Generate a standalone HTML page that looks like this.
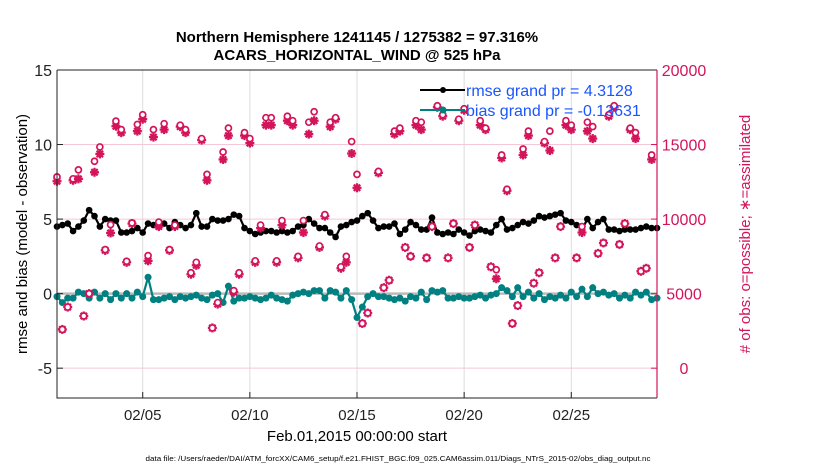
<!DOCTYPE html>
<html><head><meta charset="utf-8"><style>
html,body{margin:0;padding:0;background:#fff;}
svg{display:block;font-family:"Liberation Sans",Arial,sans-serif;}
</style></head><body>
<svg id="chart" width="830" height="470" viewBox="0 0 830 470" xmlns="http://www.w3.org/2000/svg">
<rect x="0" y="0" width="830" height="470" fill="#fff"/>
<text x="357" y="42" text-anchor="middle" font-size="15" font-weight="bold">Northern Hemisphere 1241145 / 1275382 = 97.316%</text>
<text x="357" y="60" text-anchor="middle" font-size="15" font-weight="bold">ACARS_HORIZONTAL_WIND @ 525 hPa</text>
<g id="grid"></g>
<g id="lines"></g>
<g id="obs"></g>
<g id="axes"></g>
<g>
  <line x1="420" y1="90" x2="465" y2="90" stroke="#000" stroke-width="2"/>
  <circle cx="443" cy="90" r="3" fill="#000"/>
  <text x="466" y="96" font-size="16" fill="#1a55ff">rmse grand pr = 4.3128</text>
  <line x1="420" y1="110" x2="465" y2="110" stroke="#008080" stroke-width="2"/>
  <circle cx="443" cy="110" r="3.5" fill="#008080"/>
  <text x="466" y="116" font-size="16" fill="#1a55ff">bias grand pr = -0.13631</text>
</g>
<text transform="translate(27,234) rotate(-90)" text-anchor="middle" font-size="15">rmse and bias (model - observation)</text>
<text transform="translate(750,234) rotate(-90)" text-anchor="middle" font-size="15" fill="#d4145a"># of obs: o=possible; ∗=assimilated</text>
<text x="357" y="441" text-anchor="middle" font-size="15">Feb.01,2015 00:00:00 start</text>
<text x="398" y="461" text-anchor="middle" font-size="7.5" textLength="505" lengthAdjust="spacingAndGlyphs">data file: /Users/raeder/DAI/ATM_forcXX/CAM6_setup/f.e21.FHIST_BGC.f09_025.CAM6assim.011/Diags_NTrS_2015-02/obs_diag_output.nc</text>
</svg>
<script>
const xTickDays=[4,9,14,19,24];
const xTickLabels=["02/05","02/10","02/15","02/20","02/25"];
const yTicksLeft=[-5,0,5,10,15];
const yTicksRight=[0,5000,10000,15000,20000];
const rmse=[4.5,4.6,4.7,4.2,4.5,4.9,5.6,5.2,4.5,5.0,4.9,4.9,4.1,4.1,4.2,4.4,4.1,4.7,4.6,4.5,4.7,4.4,4.8,4.6,4.4,4.6,5.4,4.5,4.5,5.0,4.9,4.9,5.0,5.3,5.2,4.4,4.2,4.0,4.1,4.2,4.2,4.1,4.2,4.1,4.2,4.5,4.6,5.0,4.7,4.4,4.4,4.1,3.8,4.5,4.6,4.8,4.9,5.2,5.4,4.9,4.4,4.5,4.5,4.7,4.0,4.3,4.8,4.6,4.3,4.3,5.1,4.1,4.0,4.1,4.0,4.3,4.1,3.9,4.2,4.3,4.2,4.1,4.6,5.0,4.3,4.4,4.6,4.8,4.7,4.9,5.2,5.1,5.2,5.3,5.4,4.9,4.8,4.6,4.3,5.0,4.4,4.8,5.0,4.3,4.3,4.2,4.3,4.3,4.3,4.4,4.5,4.4,4.4];
const bias=[-0.2,-0.6,-0.3,-0.3,0.1,0.0,-0.3,0.1,-0.3,0.0,-0.4,0.0,-0.3,0.0,-0.3,0.1,-0.2,1.1,-0.4,-0.4,-0.3,-0.2,-0.4,-0.2,-0.3,-0.2,-0.1,-0.3,-0.4,-0.1,0.0,-0.6,0.5,-0.5,-0.3,-0.3,-0.2,-0.3,-0.4,-0.3,-0.1,-0.3,-0.4,-0.5,-0.1,0.0,0.1,0.0,0.2,0.2,-0.3,0.2,0.1,-0.3,0.2,-0.4,-1.6,-0.9,-0.2,0.0,-0.2,-0.2,-0.3,-0.4,-0.3,-0.5,-0.2,-0.3,0.1,-0.4,0.2,0.1,0.2,-0.3,-0.3,-0.2,-0.3,-0.3,-0.2,-0.1,-0.3,-0.1,0.0,0.4,0.2,-0.2,0.4,-0.2,0.1,-0.3,0.0,-0.4,-0.2,-0.3,-0.1,-0.3,0.1,-0.2,0.3,-0.2,0.4,0.0,0.1,-0.1,0.0,-0.3,-0.1,-0.3,0.1,-0.1,0.1,-0.4,-0.3];
const possible=[12830,2600,4100,12700,13300,3500,5000,13880,14840,7950,9630,16570,16000,7170,9740,16350,17000,7550,16000,9800,16400,7950,9600,16300,16000,6400,7100,15400,13000,2700,4400,14500,16100,5200,6400,15800,15400,7200,9600,16800,16800,7200,9900,16900,16600,7500,9900,16500,17200,8200,10300,16500,16800,6800,7500,15200,13000,3000,3700,null,13200,5400,5900,15900,16100,8100,7500,16600,16500,7400,9500,17600,17000,7400,9700,16700,17400,8100,9600,16600,16100,6800,6600,14300,12000,3000,4200,14700,15900,5700,6400,15200,15900,7400,9500,16600,16300,7400,9500,16500,16200,7700,8400,17000,17600,8300,9700,16100,15800,6500,6700,14300,null];
const assimilated=[12540,2600,4100,12600,12700,3500,5000,13140,14370,7900,9070,16230,15800,7100,9700,15900,16700,7200,15500,9500,16000,7900,9500,16200,15800,6300,6900,15300,12600,2700,4300,14000,15600,5100,6300,15600,15100,7100,9400,16300,16300,7100,9600,16600,16300,7400,9100,15700,16600,8100,10200,16200,16700,6700,7100,14400,12100,3000,3700,null,13100,5400,5900,15700,15900,8100,7500,16300,16000,7400,9500,17500,16900,7400,9700,16600,17300,8100,9600,16300,16000,6800,6000,14100,11900,3000,4200,14300,15600,5700,6400,15100,14600,7400,9500,16300,16000,7400,9100,15900,15400,7700,8400,16900,17500,8300,9700,16000,15400,6500,6700,14000,0];
const stepDays=0.25;

const NS="http://www.w3.org/2000/svg";
const X0=57,X1=657,Y0=70,Y1=398,XMIN=0,XMAX=28,YMIN=-7,YMAX=15;
const xS=d=>X0+(d-XMIN)/(XMAX-XMIN)*(X1-X0);
const yS=v=>Y1-(v-YMIN)/(YMAX-YMIN)*(Y1-Y0);
const yR=c=>yS(c/1000-5);
const RED="#d4145a";
function mk(tag,attrs,parent){const e=document.createElementNS(NS,tag);for(const k in attrs)e.setAttribute(k,attrs[k]);parent.appendChild(e);return e;}
const grid=document.getElementById('grid'),axes=document.getElementById('axes'),obs=document.getElementById('obs'),lines=document.getElementById('lines');

xTickDays.forEach((d,i)=>{
  const g=mk('line',{x1:xS(d),x2:xS(d),y1:Y0,y2:Y1,stroke:'#dcdcdc','stroke-width':1},grid);
  
  
  const t=mk('line',{x1:xS(d),x2:xS(d),y1:Y1,y2:Y1-6,stroke:'#222','stroke-width':1},axes);
  
  
  const l=mk('text',{x:xS(d),y:420,'text-anchor':'middle','font-size':15,fill:'#222'},axes);
  l.textContent=xTickLabels[i];
  
  
});
yTicksRight.forEach(c=>{
  const g=mk('line',{x1:X0,x2:X1,y1:yR(c),y2:yR(c),stroke:'#f4c8d6','stroke-width':1},grid);
  
  
  const t=mk('line',{x1:X1,x2:X1-6,y1:yR(c),y2:yR(c),stroke:RED,'stroke-width':1},axes);
  
  
  const l=mk('text',{x:684,y:yR(c)+6,'text-anchor':'middle','font-size':16,fill:RED},axes);
  l.textContent=String(c);
  
  
});
yTicksLeft.forEach(v=>{
  const t=mk('line',{x1:X0,x2:X0+6,y1:yS(v),y2:yS(v),stroke:'#222','stroke-width':1},axes);
  
  
  const l=mk('text',{x:52,y:yS(v)+6,'text-anchor':'end','font-size':16,fill:'#222'},axes);
  l.textContent=String(v);
  
  
});
const zl=mk('line',{x1:X0,x2:X1,y1:yS(0),y2:yS(0),stroke:'#bbbbbb','stroke-width':2.5},grid);



possible.forEach((c,i)=>{
  if(c===null)return;
  const cx=xS(i*stepDays);
  const a=assimilated[i];
  if(a!==null){
    const g=mk('g',{stroke:RED,'stroke-width':2.3},obs);
    
    
    const cy=yR(a);
    [[4.5,0],[0,4.5],[3.2,3.2],[3.2,-3.2]].forEach(([dx,dy])=>mk('line',{x1:cx-dx,y1:cy-dy,x2:cx+dx,y2:cy+dy},g));
  }
  if(c>0){
    const o=mk('circle',{cx:cx,cy:yR(c),r:3,fill:'#fff',stroke:RED,'stroke-width':1.7},obs);
    
    
  }
});

function series(vals,color,r,name){
  const pts=vals.map((v,i)=>xS(i*stepDays)+','+yS(v)).join(' ');
  const pl=mk('polyline',{points:pts,fill:'none',stroke:color,'stroke-width':2.2},lines);
  
  
  vals.forEach((v,i)=>{
    const c=mk('circle',{cx:xS(i*stepDays),cy:yS(v),r:r,fill:color},lines);
    
    
  });
}
series(bias,'#008080',3.5,'bias');
series(rmse,'#000000',3.3,'rmse');

const box=mk('path',{d:`M${X0},${Y0}H${X1} M${X0},${Y0}V${Y1}H${X1}`,fill:'none',stroke:'#222','stroke-width':1},axes);


const ra=mk('line',{x1:X1,x2:X1,y1:Y0,y2:Y1,stroke:RED,'stroke-width':1.2},axes);


</script>
</body></html>
